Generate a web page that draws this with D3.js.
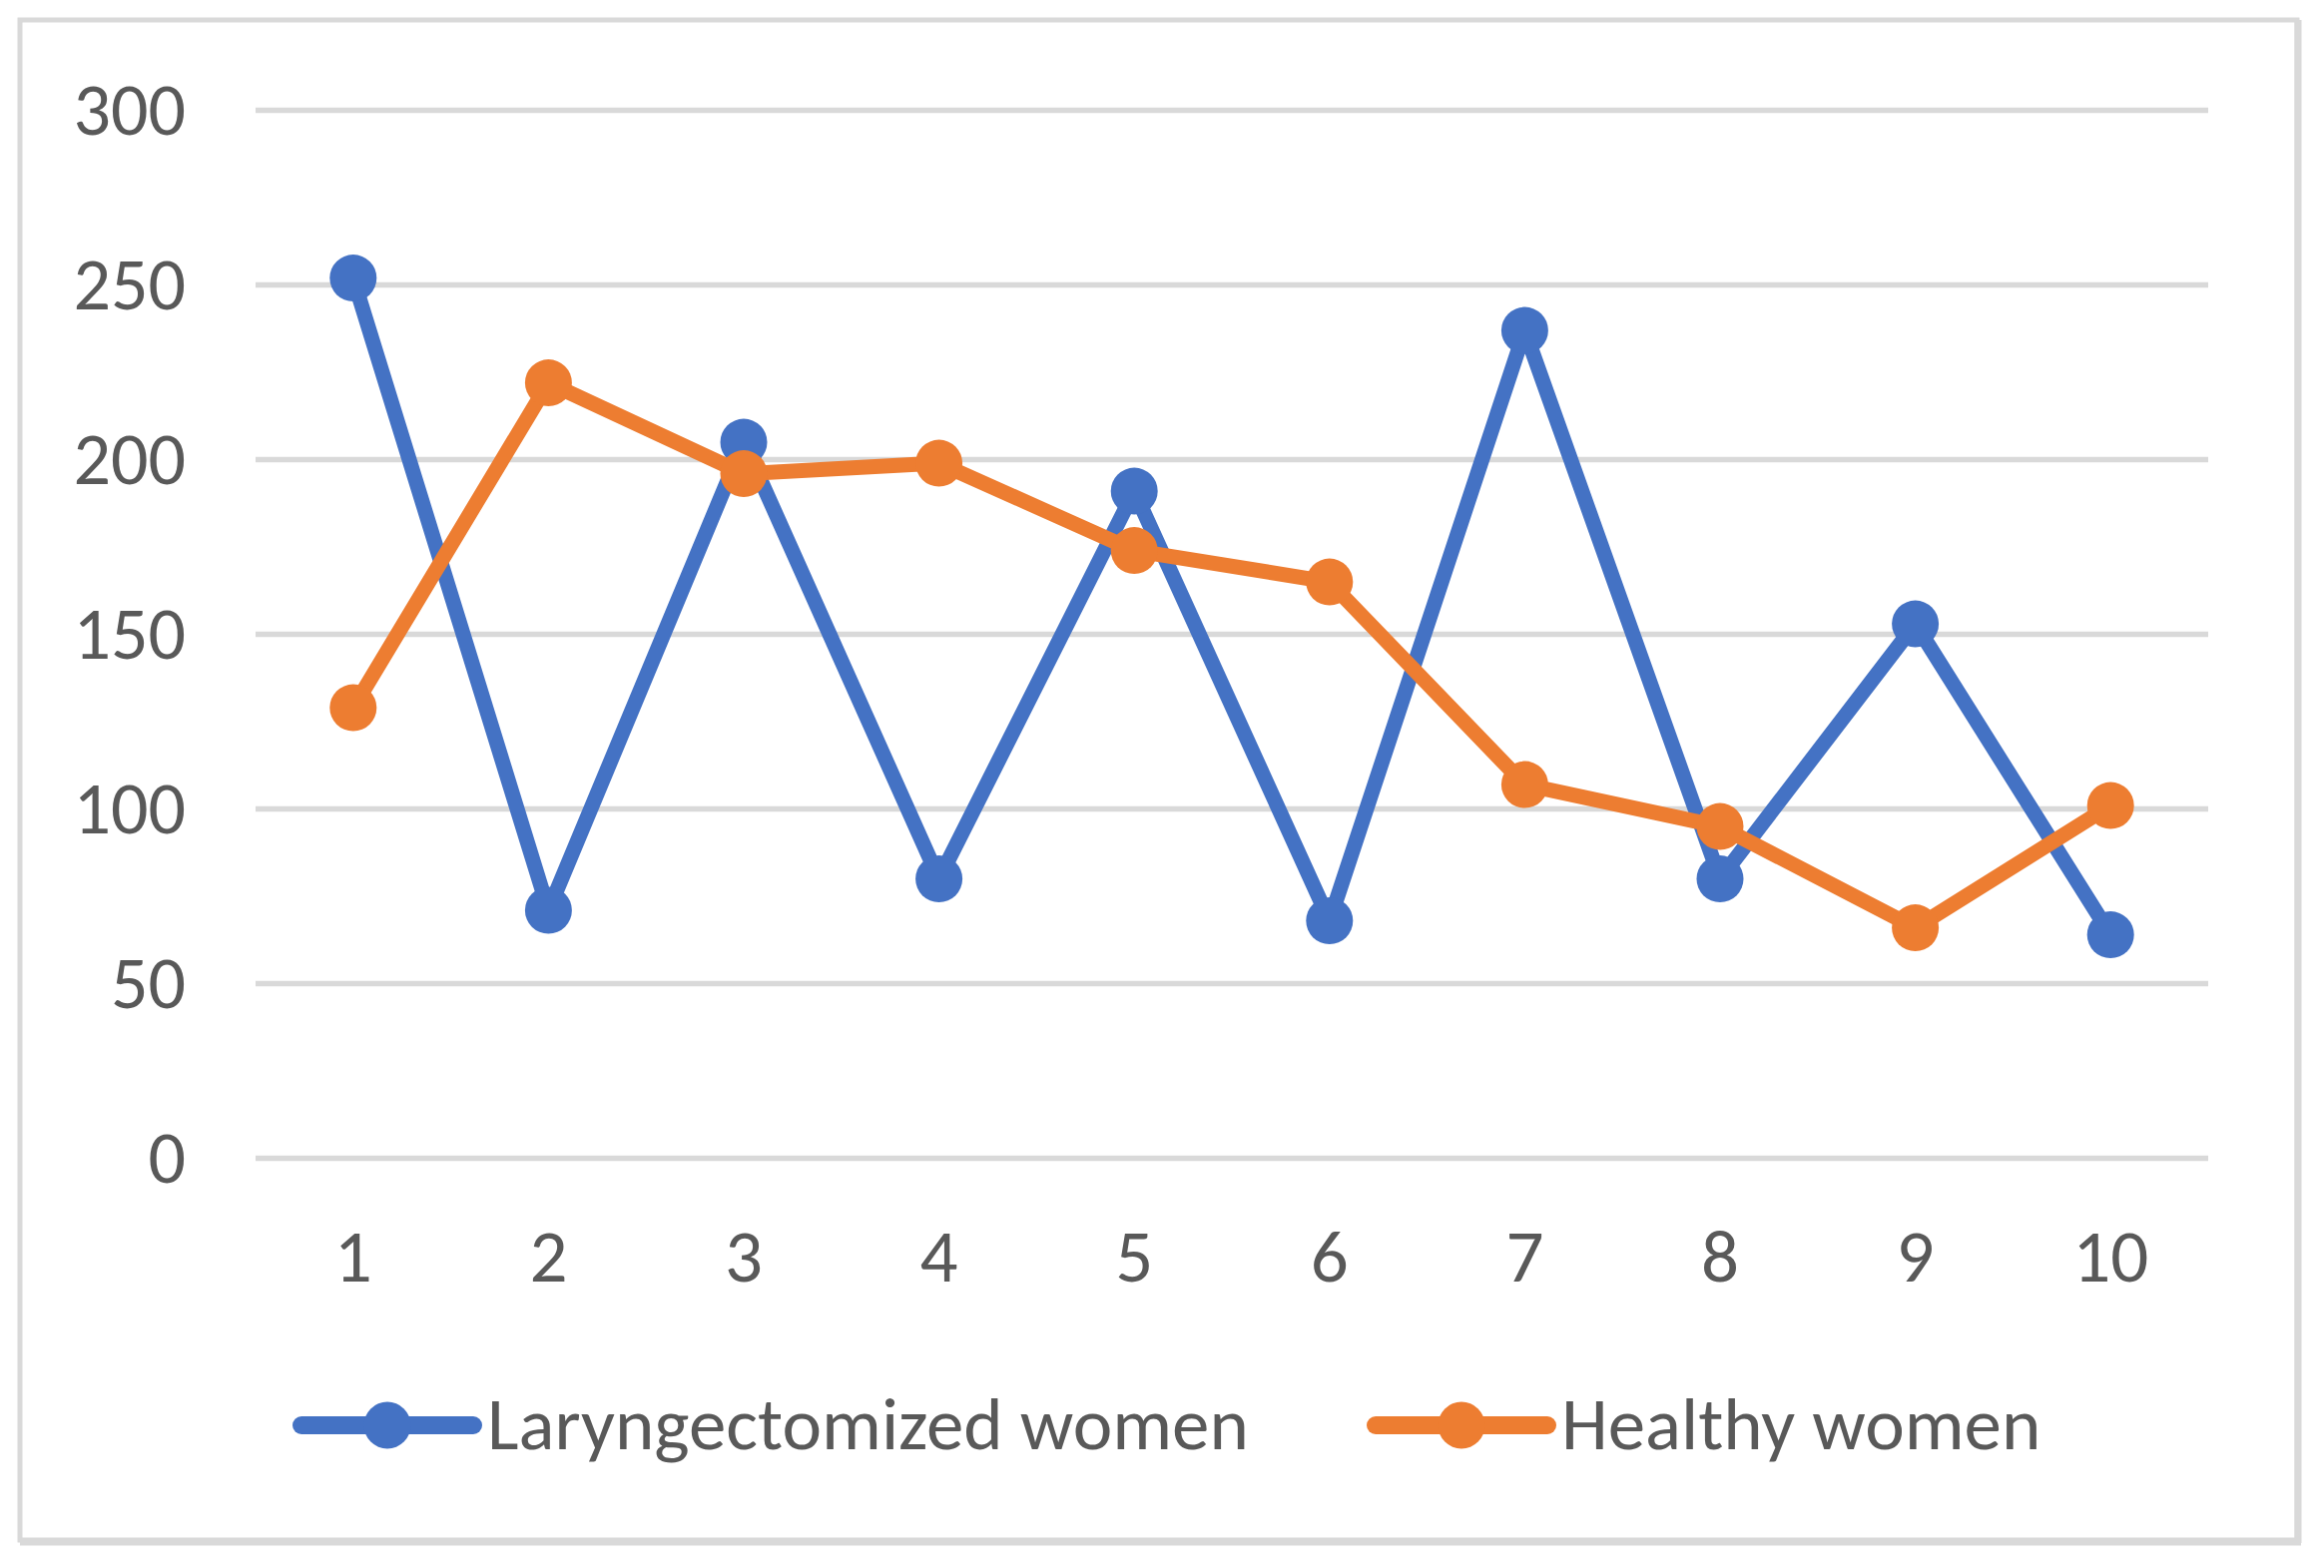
<!DOCTYPE html>
<html>
<head>
<meta charset="utf-8">
<script src="https://cdn.jsdelivr.net/npm/d3@7"></script>
<style>
  html, body { margin: 0; padding: 0; background: #ffffff; }
  svg { display: block; }
</style>
</head>
<body>
<svg id="chart" width="2328" height="1571"></svg>
<script>
const categories = ["1", "2", "3", "4", "5", "6", "7", "8", "9", "10"];
const laryngectomized = [252, 71, 205, 80, 191, 68, 237, 80, 153, 64];
const healthy = [129, 222, 196, 199, 174, 165, 107, 95, 66, 101];
const seriesNames = ["Laryngectomized women", "Healthy women"];
const seriesColors = ["#4472C4", "#ED7D31"];
const yTicks = [0, 50, 100, 150, 200, 250, 300];

(function () {
const FONT = "Carlito, Calibri, 'Liberation Sans', Arial, sans-serif";
const svg = d3.select("#chart");
const W = 2328, H = 1571;

svg.append("rect").attr("x", 0).attr("y", 0).attr("width", W).attr("height", H).attr("fill", "#ffffff");

// chart border
svg.append("rect")
  .attr("x", 20).attr("y", 20).attr("width", 2281).attr("height", 1523)
  .attr("fill", "none").attr("stroke", "#d9d9d9").attr("stroke-width", 5);
svg.append("line").attr("x1", 2302).attr("x2", 2302).attr("y1", 20).attr("y2", 1546)
  .attr("stroke", "#d9d9d9").attr("stroke-width", 7);
svg.append("line").attr("x1", 20).attr("x2", 2305).attr("y1", 1545).attr("y2", 1545)
  .attr("stroke", "#d9d9d9").attr("stroke-width", 7);

const pLeft = 256, pRight = 2212, pTop = 110.6, pBottom = 1160.6;

const x = d3.scaleBand().domain(categories).range([pLeft, pRight]).padding(0);
const y = d3.scaleLinear().domain([0, 300]).range([pBottom, pTop]);
const cx = c => x(c) + x.bandwidth() / 2;

// gridlines
svg.append("g").selectAll("line").data(yTicks).join("line")
  .attr("x1", pLeft).attr("x2", pRight)
  .attr("y1", d => y(d)).attr("y2", d => y(d))
  .attr("stroke", "#d9d9d9").attr("stroke-width", 5.5);

// y axis
const yAxis = svg.append("g").attr("transform", `translate(${pLeft},0)`)
  .call(d3.axisLeft(y).tickValues(yTicks).tickSize(0).tickPadding(70));
yAxis.select(".domain").remove();
yAxis.selectAll("text").attr("font-family", FONT).attr("font-size", 74).attr("fill", "#595959");

// x axis
const xAxis = svg.append("g").attr("transform", `translate(0,${pBottom})`)
  .call(d3.axisBottom(x).tickSize(0).tickPadding(70));
xAxis.select(".domain").remove();
xAxis.selectAll("text").attr("font-family", FONT).attr("font-size", 75).attr("fill", "#595959");

const allSeries = [laryngectomized, healthy];
const line = d3.line().x((d, i) => cx(categories[i])).y(d => y(d));

allSeries.forEach((vals, si) => {
  const g = svg.append("g");
  g.append("path").datum(vals)
    .attr("d", line)
    .attr("fill", "none")
    .attr("stroke", seriesColors[si])
    .attr("stroke-width", 15)
    .attr("stroke-linejoin", "round")
    .attr("stroke-linecap", "round");
  g.selectAll("circle").data(vals).join("circle")
    .attr("cx", (d, i) => cx(categories[i]))
    .attr("cy", d => y(d))
    .attr("r", 23.5)
    .attr("fill", seriesColors[si]);
});

// legend
const legendItems = [
  { x1: 302, x2: 474, tx: 488 },
  { x1: 1378, x2: 1550, tx: 1564 }
];
const ly = 1428;
legendItems.forEach((it, i) => {
  const g = svg.append("g");
  g.append("line").attr("x1", it.x1).attr("x2", it.x2).attr("y1", ly).attr("y2", ly)
    .attr("stroke", seriesColors[i]).attr("stroke-width", 18).attr("stroke-linecap", "round");
  g.append("circle").attr("cx", (it.x1 + it.x2) / 2).attr("cy", ly).attr("r", 23.5)
    .attr("fill", seriesColors[i]);
  g.append("text").attr("x", it.tx).attr("y", 1452)
    .attr("font-family", FONT).attr("font-size", 75).attr("fill", "#595959")
    .text(seriesNames[i]);
});
})();
</script>
</body>
</html>
